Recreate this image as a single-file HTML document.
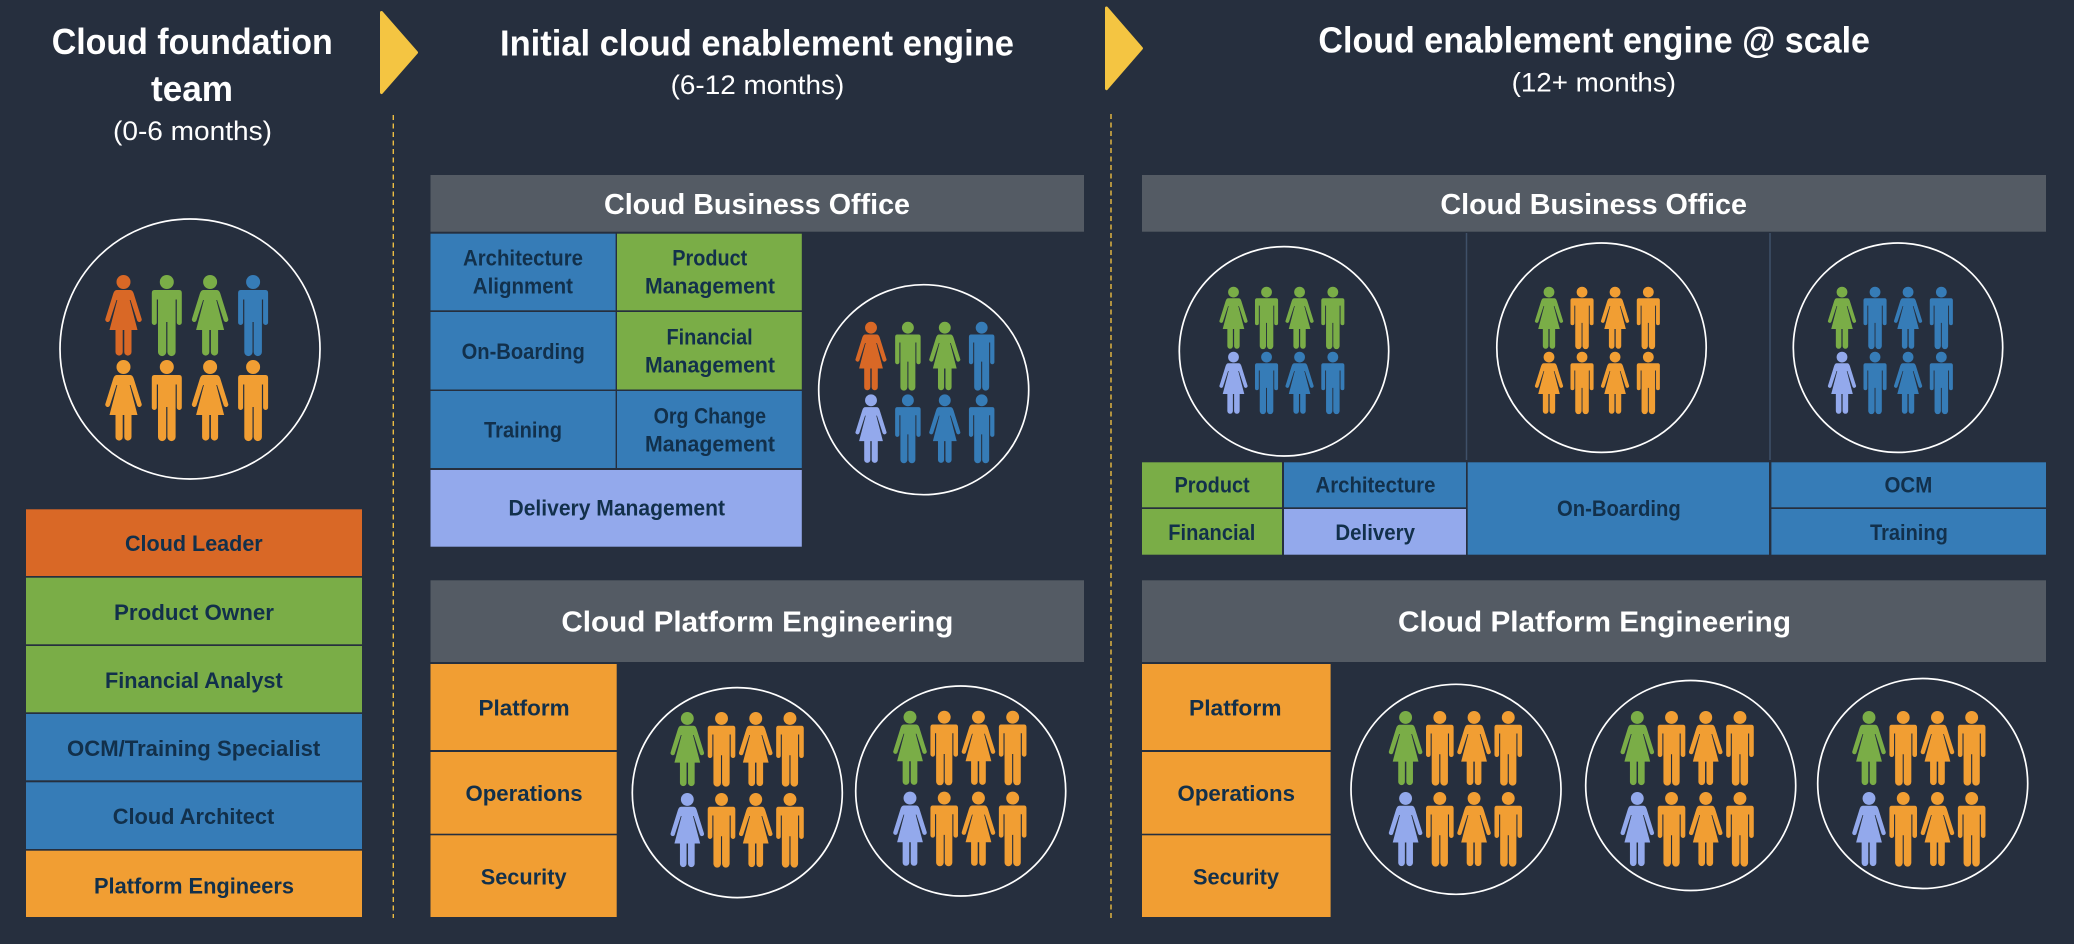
<!DOCTYPE html>
<html>
<head>
<meta charset="utf-8">
<title>Cloud enablement engine</title>
<style>
html,body{margin:0;padding:0;background:#262f3e;}
svg{display:block;}
text{font-family:"Liberation Sans",Arial,sans-serif;}
.t{font-size:36px;font-weight:700;fill:#fff;}
.s{font-size:27px;font-weight:400;fill:#fff;}
.h{font-size:29px;font-weight:700;fill:#fff;}
.l{font-size:22px;font-weight:700;fill:#12304b;}
.c{fill:none;stroke:#fff;stroke-width:1.7;}
</style>
</head>
<body>
<svg xmlns="http://www.w3.org/2000/svg" width="2074" height="944" viewBox="0 0 2074 944">
<defs>
<g id="m"><circle cx="0" cy="7" r="7"/><path d="M-12.5 15H12.5Q15 15 15 18V47.5A2.5 2.5 0 0 1 10 47.5V24.5H8.8V77A4.1 4.1 0 0 1 .6 77V47H-.6V77A4.1 4.1 0 0 1 -8.8 77V24.5H-10V47.5A2.5 2.5 0 0 1 -15 47.5V18Q-15 15 -12.5 15Z"/></g>
<g id="w"><circle cx="0" cy="7" r="7"/><path d="M-6.8 15H6.8Q9 15 10.2 18.5L18 43.5A2.3 2.3 0 0 1 13.7 45.6L7 25H6.2L14 55H8V77A3.6 3.6 0 0 1 .8 77V55H-.8V77A3.6 3.6 0 0 1 -8 77V55H-14L-6.2 25H-7L-13.7 45.6A2.3 2.3 0 0 1 -18 43.5L-10.2 18.5Q-9 15 -6.8 15Z"/></g>
</defs>
<rect width="2074" height="944" fill="#262f3e"/>

<!-- arrows and dividers -->
<polygon points="381.5,12.5 416.5,52.5 381.5,92.5" fill="#f4c542" stroke="#f4c542" stroke-width="3" stroke-linejoin="round"/>
<polygon points="1106.5,8 1141.5,48.3 1106.5,88.6" fill="#f4c542" stroke="#f4c542" stroke-width="3" stroke-linejoin="round"/>
<line x1="393.3" y1="115" x2="393.3" y2="918" stroke="#ecbd42" stroke-width="1.4" stroke-dasharray="5 3.5"/>
<line x1="1111" y1="114" x2="1111" y2="918" stroke="#ecbd42" stroke-width="1.4" stroke-dasharray="5 3.5"/>

<!-- titles -->
<text class="t" x="51.7" y="54" textLength="281" lengthAdjust="spacingAndGlyphs">Cloud foundation</text>
<text class="t" x="151" y="101" textLength="82" lengthAdjust="spacingAndGlyphs">team</text>
<text class="s" x="113" y="140" textLength="159" lengthAdjust="spacingAndGlyphs">(0-6 months)</text>
<text class="t" x="500" y="55.7" textLength="514" lengthAdjust="spacingAndGlyphs">Initial cloud enablement engine</text>
<text class="s" x="670.6" y="94" textLength="173.7" lengthAdjust="spacingAndGlyphs">(6-12 months)</text>
<text class="t" x="1318.4" y="52.3" textLength="551.6" lengthAdjust="spacingAndGlyphs">Cloud enablement engine @ scale</text>
<text class="s" x="1511.6" y="91.7" textLength="164.4" lengthAdjust="spacingAndGlyphs">(12+ months)</text>

<!-- left column bars -->
<rect x="26" y="509.3" width="336" height="66.7" fill="#d96826"/>
<rect x="26" y="577.7" width="336" height="66.6" fill="#7aad47"/>
<rect x="26" y="646" width="336" height="66.3" fill="#7aad47"/>
<rect x="26" y="714" width="336" height="66.3" fill="#367cb7"/>
<rect x="26" y="782.3" width="336" height="66.7" fill="#367cb7"/>
<rect x="26" y="850.7" width="336" height="66.3" fill="#f19e33"/>
<text class="l" x="125" y="551" textLength="137.7" lengthAdjust="spacingAndGlyphs">Cloud Leader</text>
<text class="l" x="114" y="620" textLength="160" lengthAdjust="spacingAndGlyphs">Product Owner</text>
<text class="l" x="105" y="688" textLength="177.7" lengthAdjust="spacingAndGlyphs">Financial Analyst</text>
<text class="l" x="67" y="756" textLength="253.3" lengthAdjust="spacingAndGlyphs">OCM/Training Specialist</text>
<text class="l" x="112.7" y="824" textLength="161.6" lengthAdjust="spacingAndGlyphs">Cloud Architect</text>
<text class="l" x="94" y="893.3" textLength="200" lengthAdjust="spacingAndGlyphs">Platform Engineers</text>

<!-- middle CBO -->
<rect x="430.5" y="175" width="653.5" height="56.7" fill="#545b64"/>
<text class="h" x="604" y="214" textLength="306" lengthAdjust="spacingAndGlyphs">Cloud Business Office</text>
<rect x="430.5" y="233.7" width="185.1" height="76.6" fill="#367cb7"/>
<rect x="617" y="233.7" width="184.8" height="76.6" fill="#7aad47"/>
<rect x="430.5" y="312" width="185.1" height="77.5" fill="#367cb7"/>
<rect x="617" y="312" width="184.8" height="77.5" fill="#7aad47"/>
<rect x="430.5" y="391" width="185.1" height="77" fill="#367cb7"/>
<rect x="617" y="391" width="184.8" height="77" fill="#367cb7"/>
<rect x="430.5" y="470" width="371.3" height="76.7" fill="#93a9ec"/>
<text class="l" x="463" y="265.7" textLength="120" lengthAdjust="spacingAndGlyphs">Architecture</text>
<text class="l" x="472.8" y="293.3" textLength="100.2" lengthAdjust="spacingAndGlyphs">Alignment</text>
<text class="l" x="672.3" y="265.7" textLength="75" lengthAdjust="spacingAndGlyphs">Product</text>
<text class="l" x="645" y="293.3" textLength="130" lengthAdjust="spacingAndGlyphs">Management</text>
<text class="l" x="461.6" y="359" textLength="123.2" lengthAdjust="spacingAndGlyphs">On-Boarding</text>
<text class="l" x="666.5" y="344.3" textLength="86.2" lengthAdjust="spacingAndGlyphs">Financial</text>
<text class="l" x="645" y="372.7" textLength="130" lengthAdjust="spacingAndGlyphs">Management</text>
<text class="l" x="484" y="437.3" textLength="78" lengthAdjust="spacingAndGlyphs">Training</text>
<text class="l" x="653.6" y="423.3" textLength="112.4" lengthAdjust="spacingAndGlyphs">Org Change</text>
<text class="l" x="645" y="451.7" textLength="130" lengthAdjust="spacingAndGlyphs">Management</text>
<text class="l" x="508.5" y="515.7" textLength="216.5" lengthAdjust="spacingAndGlyphs">Delivery Management</text>

<!-- middle CPE -->
<rect x="430.5" y="580.3" width="653.5" height="81.7" fill="#545b64"/>
<text class="h" x="561.4" y="631.7" textLength="392" lengthAdjust="spacingAndGlyphs">Cloud Platform Engineering</text>
<rect x="430.5" y="664" width="186.2" height="86" fill="#f19e33"/>
<rect x="430.5" y="752" width="186.2" height="81.7" fill="#f19e33"/>
<rect x="430.5" y="835.3" width="186.2" height="81.7" fill="#f19e33"/>
<text class="l" x="478.5" y="715.7" textLength="91.1" lengthAdjust="spacingAndGlyphs">Platform</text>
<text class="l" x="465.5" y="801" textLength="117.1" lengthAdjust="spacingAndGlyphs">Operations</text>
<text class="l" x="480.7" y="884.3" textLength="85.9" lengthAdjust="spacingAndGlyphs">Security</text>

<!-- right CBO -->
<rect x="1142" y="175" width="904" height="56.7" fill="#545b64"/>
<text class="h" x="1440.4" y="214" textLength="306.6" lengthAdjust="spacingAndGlyphs">Cloud Business Office</text>
<line x1="1466.5" y1="233" x2="1466.5" y2="460" stroke="#3f5068" stroke-width="1.5"/>
<line x1="1770" y1="233" x2="1770" y2="460" stroke="#3f5068" stroke-width="1.5"/>
<rect x="1142" y="462.3" width="140" height="45" fill="#7aad47"/>
<rect x="1142" y="509" width="140" height="45.7" fill="#7aad47"/>
<rect x="1284" y="462.3" width="182" height="45" fill="#367cb7"/>
<rect x="1284" y="509" width="182" height="45.7" fill="#93a9ec"/>
<rect x="1467.7" y="462.3" width="301.3" height="92.4" fill="#367cb7"/>
<rect x="1771.4" y="462.3" width="274.6" height="45" fill="#367cb7"/>
<rect x="1771.4" y="509" width="274.6" height="45.7" fill="#367cb7"/>
<text class="l" x="1174.5" y="492.3" textLength="75.2" lengthAdjust="spacingAndGlyphs">Product</text>
<text class="l" x="1315.5" y="492.3" textLength="119.9" lengthAdjust="spacingAndGlyphs">Architecture</text>
<text class="l" x="1884.5" y="492.3" textLength="47.8" lengthAdjust="spacingAndGlyphs">OCM</text>
<text class="l" x="1168.3" y="540" textLength="87" lengthAdjust="spacingAndGlyphs">Financial</text>
<text class="l" x="1335.4" y="540" textLength="79.6" lengthAdjust="spacingAndGlyphs">Delivery</text>
<text class="l" x="1870" y="540" textLength="77.8" lengthAdjust="spacingAndGlyphs">Training</text>
<text class="l" x="1557" y="516" textLength="123.7" lengthAdjust="spacingAndGlyphs">On-Boarding</text>

<!-- right CPE -->
<rect x="1142" y="580.3" width="904" height="81.7" fill="#545b64"/>
<text class="h" x="1398" y="631.7" textLength="393" lengthAdjust="spacingAndGlyphs">Cloud Platform Engineering</text>
<rect x="1142" y="664" width="188.6" height="86" fill="#f19e33"/>
<rect x="1142" y="752" width="188.6" height="81.7" fill="#f19e33"/>
<rect x="1142" y="835.3" width="188.6" height="81.7" fill="#f19e33"/>
<text class="l" x="1189" y="715.7" textLength="92.5" lengthAdjust="spacingAndGlyphs">Platform</text>
<text class="l" x="1177.5" y="801" textLength="117.5" lengthAdjust="spacingAndGlyphs">Operations</text>
<text class="l" x="1193" y="884.3" textLength="86" lengthAdjust="spacingAndGlyphs">Security</text>

<!-- circles -->
<circle class="c" cx="190" cy="349" r="130"/>
<circle class="c" cx="923.7" cy="389.7" r="105"/>
<circle class="c" cx="737.3" cy="792.6" r="105"/>
<circle class="c" cx="960.7" cy="791" r="105"/>
<circle class="c" cx="1284" cy="351.3" r="104.7"/>
<circle class="c" cx="1601.5" cy="347.7" r="104.7"/>
<circle class="c" cx="1898" cy="347.7" r="104.7"/>
<circle class="c" cx="1456" cy="789.3" r="105"/>
<circle class="c" cx="1690.7" cy="785.5" r="105"/>
<circle class="c" cx="1922.7" cy="783.5" r="105"/>

<!-- people: foundation -->
<g transform="translate(123.5 275)">
<use href="#w" x="0" y="0" fill="#d96826"/><use href="#m" x="43.3" y="0" fill="#7aad47"/><use href="#w" x="86.6" y="0" fill="#7aad47"/><use href="#m" x="129.6" y="0" fill="#367cb7"/>
<use href="#w" x="0" y="85" fill="#f19e33"/><use href="#m" x="43.3" y="85" fill="#f19e33"/><use href="#w" x="86.6" y="85" fill="#f19e33"/><use href="#m" x="129.6" y="85" fill="#f19e33"/>
</g>
<!-- people: middle CBO -->
<g transform="translate(871 321.7) scale(.85)">
<use href="#w" x="0" y="0" fill="#d96826"/><use href="#m" x="43.4" y="0" fill="#7aad47"/><use href="#w" x="86.8" y="0" fill="#7aad47"/><use href="#m" x="130.2" y="0" fill="#367cb7"/>
<use href="#w" x="0" y="85.5" fill="#93a9ec"/><use href="#m" x="43.4" y="85.5" fill="#367cb7"/><use href="#w" x="86.8" y="85.5" fill="#367cb7"/><use href="#m" x="130.2" y="85.5" fill="#367cb7"/>
</g>
<!-- people: middle CPE -->
<g transform="translate(687.3 712) scale(.92)">
<use href="#w" x="0" y="0" fill="#7aad47"/><use href="#m" x="37.2" y="0" fill="#f19e33"/><use href="#w" x="74.4" y="0" fill="#f19e33"/><use href="#m" x="111.6" y="0" fill="#f19e33"/>
<use href="#w" x="0" y="88" fill="#93a9ec"/><use href="#m" x="37.2" y="88" fill="#f19e33"/><use href="#w" x="74.4" y="88" fill="#f19e33"/><use href="#m" x="111.6" y="88" fill="#f19e33"/>
</g>
<g transform="translate(910 710.7) scale(.92)">
<use href="#w" x="0" y="0" fill="#7aad47"/><use href="#m" x="37.2" y="0" fill="#f19e33"/><use href="#w" x="74.4" y="0" fill="#f19e33"/><use href="#m" x="111.6" y="0" fill="#f19e33"/>
<use href="#w" x="0" y="88" fill="#93a9ec"/><use href="#m" x="37.2" y="88" fill="#f19e33"/><use href="#w" x="74.4" y="88" fill="#f19e33"/><use href="#m" x="111.6" y="88" fill="#f19e33"/>
</g>
<!-- people: right CBO -->
<g transform="translate(1233.5 286.7) scale(.77)">
<use href="#w" x="0" y="0" fill="#7aad47"/><use href="#m" x="42.9" y="0" fill="#7aad47"/><use href="#w" x="85.8" y="0" fill="#7aad47"/><use href="#m" x="129" y="0" fill="#7aad47"/>
<use href="#w" x="0" y="84.4" fill="#93a9ec"/><use href="#m" x="42.9" y="84.4" fill="#367cb7"/><use href="#w" x="85.8" y="84.4" fill="#367cb7"/><use href="#m" x="129" y="84.4" fill="#367cb7"/>
</g>
<g transform="translate(1549 286.7) scale(.77)">
<use href="#w" x="0" y="0" fill="#7aad47"/><use href="#m" x="42.9" y="0" fill="#f19e33"/><use href="#w" x="85.8" y="0" fill="#f19e33"/><use href="#m" x="129" y="0" fill="#f19e33"/>
<use href="#w" x="0" y="84.4" fill="#f19e33"/><use href="#m" x="42.9" y="84.4" fill="#f19e33"/><use href="#w" x="85.8" y="84.4" fill="#f19e33"/><use href="#m" x="129" y="84.4" fill="#f19e33"/>
</g>
<g transform="translate(1842 286.7) scale(.77)">
<use href="#w" x="0" y="0" fill="#7aad47"/><use href="#m" x="42.9" y="0" fill="#367cb7"/><use href="#w" x="85.8" y="0" fill="#367cb7"/><use href="#m" x="129" y="0" fill="#367cb7"/>
<use href="#w" x="0" y="84.4" fill="#93a9ec"/><use href="#m" x="42.9" y="84.4" fill="#367cb7"/><use href="#w" x="85.8" y="84.4" fill="#367cb7"/><use href="#m" x="129" y="84.4" fill="#367cb7"/>
</g>
<!-- people: right CPE -->
<g transform="translate(1405.6 711) scale(.92)">
<use href="#w" x="0" y="0" fill="#7aad47"/><use href="#m" x="37.2" y="0" fill="#f19e33"/><use href="#w" x="74.4" y="0" fill="#f19e33"/><use href="#m" x="111.6" y="0" fill="#f19e33"/>
<use href="#w" x="0" y="88" fill="#93a9ec"/><use href="#m" x="37.2" y="88" fill="#f19e33"/><use href="#w" x="74.4" y="88" fill="#f19e33"/><use href="#m" x="111.6" y="88" fill="#f19e33"/>
</g>
<g transform="translate(1637.3 711) scale(.92)">
<use href="#w" x="0" y="0" fill="#7aad47"/><use href="#m" x="37.2" y="0" fill="#f19e33"/><use href="#w" x="74.4" y="0" fill="#f19e33"/><use href="#m" x="111.6" y="0" fill="#f19e33"/>
<use href="#w" x="0" y="88" fill="#93a9ec"/><use href="#m" x="37.2" y="88" fill="#f19e33"/><use href="#w" x="74.4" y="88" fill="#f19e33"/><use href="#m" x="111.6" y="88" fill="#f19e33"/>
</g>
<g transform="translate(1869 711) scale(.92)">
<use href="#w" x="0" y="0" fill="#7aad47"/><use href="#m" x="37.2" y="0" fill="#f19e33"/><use href="#w" x="74.4" y="0" fill="#f19e33"/><use href="#m" x="111.6" y="0" fill="#f19e33"/>
<use href="#w" x="0" y="88" fill="#93a9ec"/><use href="#m" x="37.2" y="88" fill="#f19e33"/><use href="#w" x="74.4" y="88" fill="#f19e33"/><use href="#m" x="111.6" y="88" fill="#f19e33"/>
</g>
</svg>
</body>
</html>
